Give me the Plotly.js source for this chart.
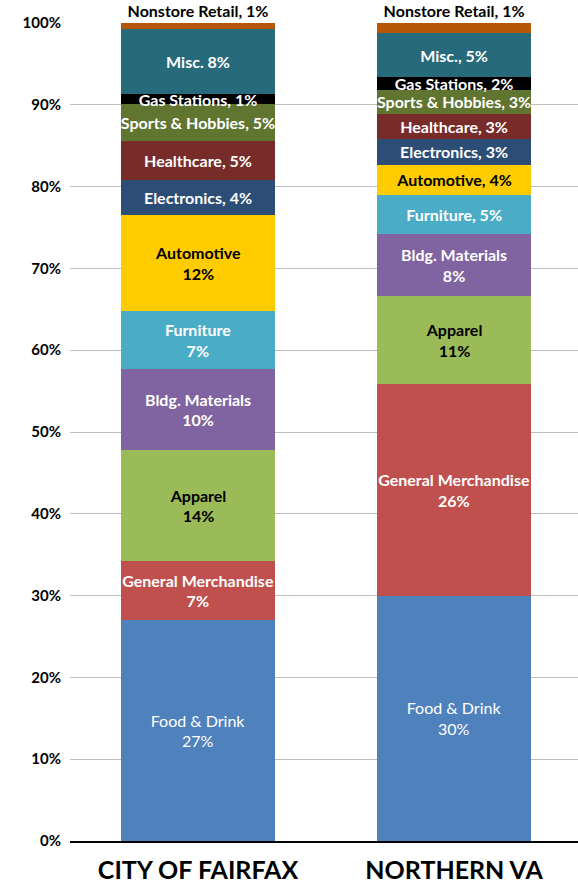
<!DOCTYPE html>
<html>
<head>
<meta charset="utf-8">
<script src="https://cdn.plot.ly/plotly-3.0.1.min.js"></script>
<style>
html,body{margin:0;padding:0;background:#fff;overflow:hidden;}
#chart{width:578px;height:888px;}
</style>
</head>
<body>
<div id="chart"></div>
<script>
// Categories (x axis)
var categories = ["CITY OF FAIRFAX", "NORTHERN VA"];

// Segment names, bottom to top
var segments = ["Food & Drink", "General Merchandise", "Apparel", "Bldg. Materials", "Furniture",
  "Automotive", "Electronics", "Healthcare", "Sports & Hobbies", "Gas Stations", "Misc.", "Nonstore Retail"];

// Share of sales (%) per segment, bottom to top
var fairfaxValues = [27.02, 7.2, 13.57, 9.9, 7.1, 11.75, 4.25, 4.77, 4.5, 1.25, 7.9, 0.78];
var northernVaValues = [30.0, 25.9, 10.76, 7.6, 4.7, 3.7, 3.2, 3.06, 2.93, 1.5, 5.38, 1.25];

// Data-label text as printed on the chart
var fairfaxLabels = ["Food & Drink<br>27%", "General Merchandise<br>7%", "Apparel<br>14%", "Bldg. Materials<br>10%",
  "Furniture<br>7%", "Automotive<br>12%", "Electronics, 4%", "Healthcare, 5%", "Sports & Hobbies, 5%",
  "Gas Stations, 1%", "Misc. 8%", "Nonstore Retail, 1%"];
var northernVaLabels = ["Food & Drink<br>30%", "General Merchandise<br>26%", "Apparel<br>11%", "Bldg. Materials<br>8%",
  "Furniture, 5%", "Automotive, 4%", "Electronics, 3%", "Healthcare, 3%", "Sports & Hobbies, 3%",
  "Gas Stations, 2%", "Misc., 5%", "Nonstore Retail, 1%"];

// Y axis ticks
var yTickValues = [0, 10, 20, 30, 40, 50, 60, 70, 80, 90, 100];
var yTickLabels = ["0%", "10%", "20%", "30%", "40%", "50%", "60%", "70%", "80%", "90%", "100%"];

// Styling
var colors = ["#4F81BD", "#C0504D", "#9BBB59", "#8064A2", "#4BACC6", "#FFCC00",
  "#2C4D75", "#772C2A", "#5F7530", "#000000", "#276A7C", "#B65708"];
var textColors = ["#fff", "#fff", "#000", "#fff", "#fff", "#000", "#fff", "#fff", "#fff", "#fff", "#fff", "#000"];
var FONT = "Lato, 'Open Sans', sans-serif";

var traces = segments.map(function (name, i) {
  var isTop = (i === segments.length - 1);
  return {
    type: "bar",
    name: name,
    x: categories,
    y: [fairfaxValues[i], northernVaValues[i]],
    text: [fairfaxLabels[i], northernVaLabels[i]],
    texttemplate: "%{text}",
    textposition: isTop ? "outside" : "inside",
    insidetextanchor: "middle",
    textangle: 0,
    constraintext: "none",
    cliponaxis: false,
    textfont: {family: FONT, size: 16, color: textColors[i], weight: (i === 0 ? 400 : 700)},
    outsidetextfont: {family: FONT, size: 16, color: "#000", weight: 700},
    marker: {color: colors[i], line: {width: 0}},
    hoverinfo: "none"
  };
});

var layout = {
  width: 578,
  height: 888,
  margin: {l: 70, r: 0, t: 23, b: 47, pad: 0},
  barmode: "stack",
  bargap: 0.4,
  showlegend: false,
  paper_bgcolor: "#fff",
  plot_bgcolor: "#fff",
  font: {family: FONT, color: "#000"},
  xaxis: {
    type: "category",
    range: [-0.5, 1.484],
    showgrid: false,
    showline: true,
    linecolor: "#000",
    linewidth: 2,
    ticks: "",
    tickfont: {family: FONT, size: 25, color: "#000", weight: 700},
    ticklabelstandoff: 6,
    fixedrange: true
  },
  yaxis: {
    range: [0, 100],
    tickmode: "array",
    tickvals: yTickValues,
    ticktext: yTickLabels,
    showgrid: true,
    gridcolor: "#BFBFBF",
    gridwidth: 1,
    zeroline: false,
    showline: false,
    ticks: "",
    ticklabelstandoff: 8,
    tickfont: {family: FONT, size: 15, color: "#000", weight: 700},
    fixedrange: true
  }
};

Plotly.newPlot("chart", traces, layout, {displayModeBar: false, staticPlot: true});
</script>
</body>
</html>
